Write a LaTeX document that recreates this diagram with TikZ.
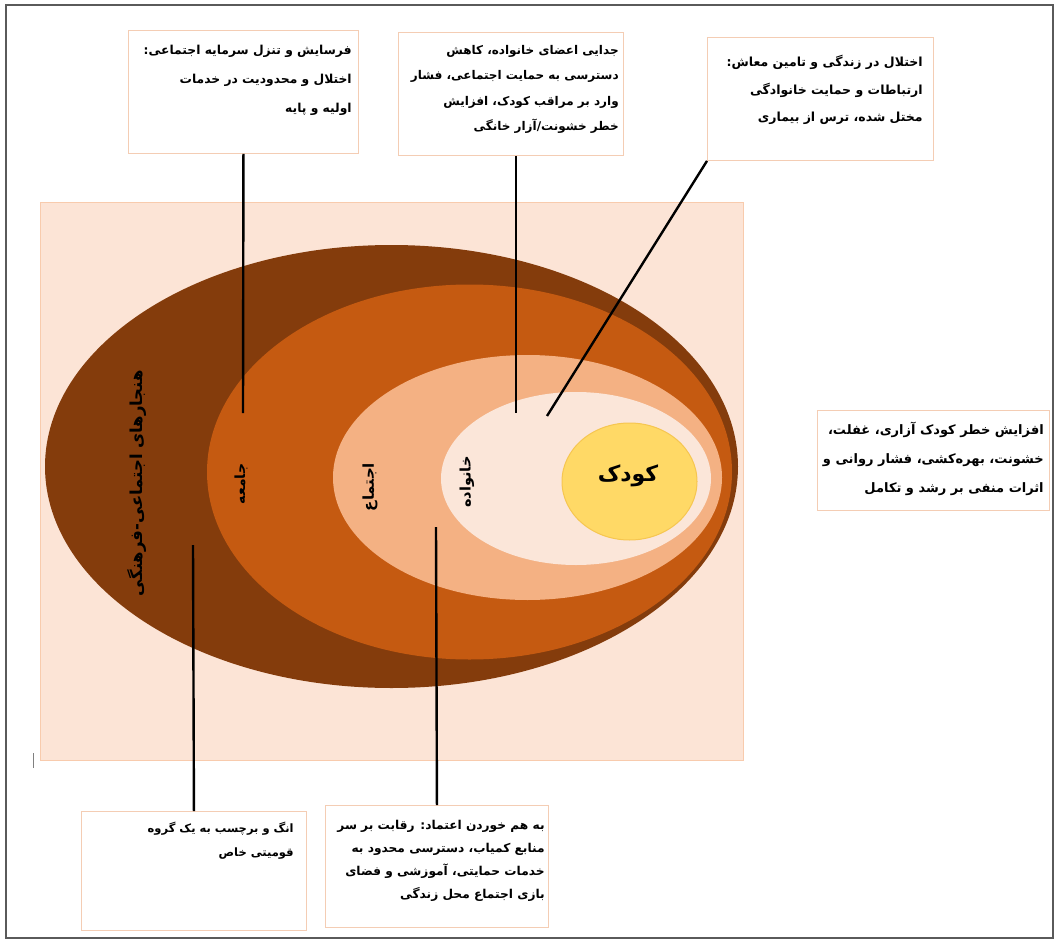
\documentclass[tikz,border=0pt]{standalone}
\usepackage{fontspec}
\usetikzlibrary{shapes.geometric,calc}
\TeXXeTstate=1
\newfontfamily\arfont[Script=Arabic]{DejaVu Sans}
\definecolor{cDark}{HTML}{843C0C}
\definecolor{cOrange}{HTML}{C55A11}
\definecolor{cLight}{HTML}{F4B183}
\definecolor{cCream}{HTML}{FBE6D9}
\definecolor{cYellow}{HTML}{FFD966}
\definecolor{cYellowRim}{HTML}{F6C650}
\definecolor{cBg}{HTML}{FCE4D6}
\definecolor{cBgLine}{HTML}{F8CBAD}
\definecolor{cBoxLine}{HTML}{F4CDB4}
\definecolor{cFrame}{HTML}{5A5A5A}
\begin{document}
\begin{tikzpicture}[x=1pt,y=-1pt,
  ring/.style={ellipse, inner sep=0pt, draw=none},
  infobox/.style={rectangle, draw=cBoxLine, line width=0.9pt, fill=white, inner sep=0pt, anchor=north west},
  infotext/.style={anchor=north east, align=right, inner sep=0pt},
  ringlabel/.style={inner sep=0pt, text=black},
  leader/.style={line width=2.4pt, draw=black}]
\useasboundingbox (0,0) rectangle (1058,942);
% frame
\draw[cFrame, line width=1.2pt] (6,5) rectangle (1053,938);
% background panel
\fill[cBg, draw=cBgLine, line width=1pt] (40,202) rectangle (743,760);
\draw[gray, line width=0.9pt] (33,753) -- (33,768);
% rings
\node[ring, fill=cDark, minimum width=693, minimum height=443] (rNorms) at (391.5,466.5) {};
\node[ring, fill=cOrange, minimum width=525, minimum height=375] (rSociety) at (469.5,472) {};
\node[ring, fill=cLight, minimum width=389, minimum height=245] (rCommunity) at (527.5,477.5) {};
\node[ring, fill=cCream, minimum width=270, minimum height=173] (rFamily) at (576,478.5) {};
\node[ring, fill=cYellow, draw=cYellowRim, line width=1pt, minimum width=135, minimum height=117] (rChild) at (629.5,481.5) {};
% ring labels
\node[ringlabel, font=\arfont\bfseries\fontsize{22}{24}\selectfont] (lChild) at (628,476) {\beginR کودک\endR};
\node[ringlabel, rotate=90, font=\arfont\bfseries\fontsize{14.5}{16}\selectfont] (lFamily) at (467,482) {\beginR خانواده\endR};
\node[ringlabel, rotate=90, font=\arfont\bfseries\fontsize{15}{16}\selectfont] (lCommunity) at (370,487) {\beginR اجتماع\endR};
\node[ringlabel, rotate=90, font=\arfont\bfseries\fontsize{14}{16}\selectfont] (lSociety) at (241,484) {\beginR جامعه\endR};
\node[ringlabel, rotate=90, font=\arfont\bfseries\fontsize{16.5}{18}\selectfont] (lNorms) at (137,483) {\beginR هنجارهای اجتماعی-فرهنگی\endR};
% info boxes
\node[infobox, minimum width=230, minimum height=123] (b1) at (128,30) {};
\node[infobox, minimum width=225, minimum height=123] (b2) at (398,32) {};
\node[infobox, minimum width=226, minimum height=123] (b3) at (707,37) {};
\node[infobox, minimum width=232, minimum height=100] (b4) at (817,410) {};
\node[infobox, minimum width=225, minimum height=119] (b5) at (81,811) {};
\node[infobox, minimum width=223, minimum height=122] (b6) at (325,805) {};
% box texts
\node[infotext, font=\arfont\bfseries\fontsize{12.3}{29}\selectfont] (t1) at ($(b1.north east)+(-7,15)$)
 {\beginR فرسایش و تنزل سرمایه اجتماعی:\endR\\
  \beginR اختلال و محدودیت در خدمات\endR\\
  \beginR اولیه و پایه\endR};
\node[infotext, font=\arfont\bfseries\fontsize{12}{25.5}\selectfont] (t2) at ($(b2.north east)+(-5,13)$)
 {\beginR جدایی اعضای خانواده، کاهش\endR\\
  \beginR دسترسی به حمایت اجتماعی، فشار\endR\\
  \beginR وارد بر مراقب کودک، افزایش\endR\\
  \beginR خطر خشونت/آزار خانگی\endR};
\node[infotext, font=\arfont\bfseries\fontsize{12.5}{27.5}\selectfont] (t3) at ($(b3.north east)+(-11,18)$)
 {\beginR اختلال در زندگی و تامین معاش:\endR\\
  \beginR ارتباطات و حمایت خانوادگی\endR\\
  \beginR مختل شده، ترس از بیماری\endR};
\node[infotext, font=\arfont\bfseries\fontsize{13}{29}\selectfont] (t4) at ($(b4.north east)+(-6,12)$)
 {\beginR افزایش خطر کودک آزاری، غفلت،\endR\\
  \beginR خشونت، بهره‌کشی، فشار روانی و\endR\\
  \beginR اثرات منفی بر رشد و تکامل\endR};
\node[infotext, font=\arfont\bfseries\fontsize{11.5}{24}\selectfont] (t5) at ($(b5.north east)+(-13,11)$)
 {\beginR انگ و برچسب به یک گروه\endR\\
  \beginR قومیتی خاص\endR};
\node[infotext, font=\arfont\bfseries\fontsize{12.2}{23}\selectfont] (t6) at ($(b6.north east)+(-4,15)$)
 {\beginR به هم خوردن اعتماد: رقابت بر سر\endR\\
  \beginR منابع کمیاب، دسترسی محدود به\endR\\
  \beginR خدمات حمایتی، آموزشی و فضای\endR\\
  \beginR بازی اجتماع محل زندگی\endR};
% leader end points
\coordinate (e1) at (243,413);
\coordinate (e2) at (516,413);
\coordinate (e3) at (547,416);
\coordinate (e5) at (193,545);
\coordinate (e6) at (436,527);
% leaders
\draw[leader] (b1.south) -- (e1);
\draw[leader] (b2.south -| e2) -- (e2);
\draw[leader] (b3.south west) -- (e3);
\draw[leader] ($(lChild.east)+(5,2)$) -- ($(lChild.east)+(5,2)$ -| b4.west);
\draw[leader] (b5.north) -- (e5);
\draw[leader] (b6.north) -- (e6);
\end{tikzpicture}
\end{document}
